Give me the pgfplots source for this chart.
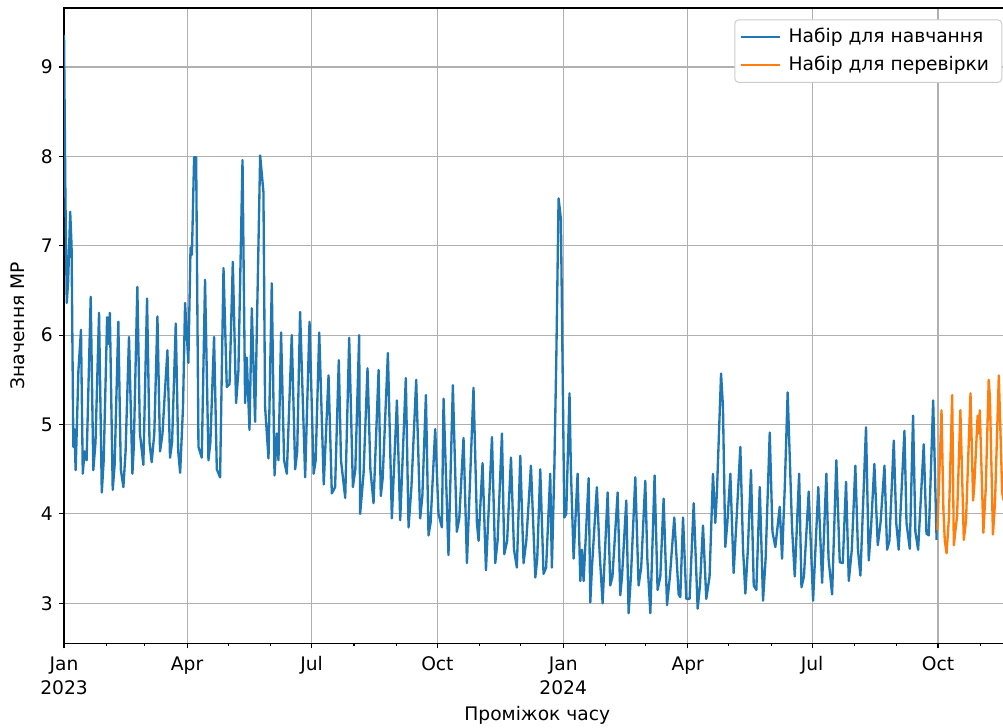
\documentclass[border=0pt]{standalone}
\usepackage{fontspec}
\setmainfont{DejaVu Sans}
\usepackage{pgfplots}
\pgfplotsset{compat=1.18}
\definecolor{mplblue}{HTML}{1F77B4}
\definecolor{mplorange}{HTML}{FF7F0E}
\begin{document}
\fontsize{14}{17}\selectfont
\begin{tikzpicture}
\useasboundingbox (-48pt,-63pt) rectangle (703.8pt,482.25pt);
\begin{axis}[
 at={(0,0)}, anchor=south west,
 scale only axis, width=704.25pt, height=476.25pt,
 xmin=0, xmax=687, ymin=2.552, ymax=9.66,
 xtick={0,90,181,273,365,456,547,639},
 xticklabels={{Jan\\2023},Apr,Jul,Oct,{Jan\\2024},Apr,Jul,Oct},
 minor xtick={31,59,120,151,212,243,304,334,396,425,486,517,578,609,670},
 ytick={3,4,5,6,7,8,9},
 xticklabel style={align=center, font=\fontsize{14}{18}\selectfont, yshift=-1.5pt},
 yticklabel style={font=\fontsize{14}{17}\selectfont},
 tick align=outside, tick pos=left,
 major tick length=3.65pt, minor tick length=2.1pt,
 every tick/.style={black, line width=0.83pt},
 axis line style={line width=0.83pt},
 grid=major, major grid style={color=black!31, line width=0.83pt},
 xlabel={Проміжок часу}, ylabel={Значення МР},
 xlabel style={at={(axis description cs:0.5037,-0.1134)}, anchor=center, font=\fontsize{14}{17}\selectfont},
 ylabel style={at={(axis description cs:-0.049,0.5)}, anchor=center, font=\fontsize{14}{17}\selectfont},
 /pgf/number format/assume math mode=true,
 legend cell align=left,
 legend image code/.code={\draw[#1, line width=1.75pt] (0pt,0pt) -- (29pt,0pt);},
 legend style={at={(rel axis cs:0.9986,0.9822)}, anchor=north east,
   draw=black!20, line width=0.75pt, rounded corners=3pt, fill=white,
   inner xsep=4pt, inner ysep=5pt, row sep=5pt,
   font=\fontsize{14}{17}\selectfont,
   nodes={inner xsep=5.5pt, inner ysep=1.5pt}},
]
\addplot[mplblue, line width=1.75pt, line join=round] coordinates {
(0,9.36) (1,7.55) (2,6.36) (3,6.6) (4.5,7.38) (5.5,7.0) (6.8,4.75) (7.5,4.95) (8.5,4.49) (10.5,5.6) (12.4,6.06) (13.7,4.45) (15,4.7) (16.5,4.6) (19.5,6.43) (21.4,4.49) (23,4.8) (25.6,6.25) (27.6,4.24) (29,4.6) (31.5,6.2) (32.2,5.9) (33.5,6.25) (35.6,4.27) (37,4.55) (39.7,6.15) (41.5,4.5) (43.4,4.3) (45,4.7) (47.5,5.98) (50,4.45) (51,4.75) (53.6,6.54) (55.5,4.9) (58,4.55) (60.7,6.41) (62.5,4.8) (64.1,4.58) (66,4.9) (68.3,6.21) (70.2,4.7) (72,4.9) (73.5,5.3) (75.6,5.83) (77.5,4.63) (79,4.8) (81.7,6.13) (83.5,4.7) (84.9,4.46) (87,5.2) (88.5,6.36) (90.9,5.69) (92.5,6.98) (93.5,6.9) (95.1,7.99) (96.6,7.99) (98.3,4.75) (100.7,4.63) (103.1,6.62) (105.6,4.6) (107,4.8) (109.7,5.98) (111.7,4.5) (114.1,4.41) (116.6,6.75) (119,5.42) (121,5.45) (123.4,6.82) (125.8,5.24) (127.5,5.6) (130.5,7.96) (132.4,5.24) (133.6,5.75) (135.6,4.94) (137.3,6.30) (139.7,5.03) (143.4,8.01) (145.8,7.6) (147,5.2) (149.5,4.62) (151.9,6.58) (153.9,4.43) (155.6,4.9) (156.8,4.6) (158.7,6.03) (160.9,4.6) (162.9,4.45) (166.5,6.0) (169,4.5) (170.5,4.7) (172.6,6.26) (176.3,4.41) (179.5,6.15) (182.5,4.45) (184,4.6) (186.6,6.03) (189.9,4.33) (193.4,5.55) (195.8,4.23) (198.2,4.3) (200.9,5.72) (202.5,4.6) (205.6,4.18) (208.5,5.97) (211.2,4.3) (213,4.5) (215.8,6.0) (216.5,4.0) (219,4.45) (221.9,5.63) (224,4.5) (226.3,4.12) (230,5.61) (231.6,4.2) (233,4.4) (236.8,5.8) (239.7,3.95) (243.4,5.27) (245.8,3.93) (249.9,5.52) (251.9,3.85) (254,4.3) (257.5,5.5) (260.4,3.95) (262,4.2) (264.6,5.33) (266.5,3.76) (268,3.9) (271.4,4.95) (273.8,4.0) (276.3,3.85) (277.5,5.29) (281.1,3.54) (284.3,5.44) (287.2,3.8) (289,3.95) (292.1,4.85) (294.6,3.45) (299.4,5.41) (301.9,3.9) (303.1,3.7) (306,4.57) (308.5,3.37) (312.9,4.86) (315.3,3.45) (317,3.7) (320.2,4.9) (321.9,3.55) (324,3.7) (326.8,4.63) (329,3.6) (331.1,3.4) (333.6,4.65) (336,3.45) (338,3.7) (341.4,4.54) (344.6,3.29) (346,3.5) (348.2,4.5) (350.6,3.33) (352.5,3.4) (355.5,4.45) (356.7,3.4) (358.5,4.5) (360,5.8) (361.6,7.53) (363.3,7.3) (365.8,3.96) (367.2,4.0) (369.6,5.35) (370.6,4.5) (372.6,3.5) (375.5,4.45) (377.5,3.25) (378.7,3.6) (379.9,3.25) (383.6,4.4) (384.8,3.01) (386,3.4) (389.6,4.3) (391.5,3.6) (393.8,3.0) (397.5,4.24) (399.4,3.2) (401,3.3) (404.8,4.24) (406.7,3.09) (408,3.3) (411.1,4.15) (412.8,2.89) (414.5,3.3) (417.7,4.41) (420.1,3.2) (422,3.4) (425,4.37) (426.5,3.5) (428.7,2.89) (431.8,4.43) (434,3.15) (436,3.3) (438.4,4.17) (440.9,2.98) (443,3.3) (446.2,3.96) (449.4,3.1) (450.6,3.07) (452.6,3.96) (455,3.05) (457.4,3.05) (460.4,4.12) (463.3,2.94) (465,3.2) (467.2,3.87) (469.6,3.05) (472,3.3) (474.5,4.45) (476.2,3.9) (477.4,4.25) (480.4,5.57) (481.8,5.2) (483.5,3.63) (485,3.9) (487.2,4.45) (489.6,3.34) (491.6,3.9) (494.5,4.75) (496.5,3.6) (498.2,3.11) (500,3.6) (502.3,4.49) (504.3,3.2) (506.2,3.15) (508.7,4.3) (511.1,3.03) (513,3.5) (516,4.91) (518,3.8) (520.1,3.63) (523.3,4.08) (525,3.5) (527,4.3) (529.1,5.36) (532.3,3.85) (534.3,3.3) (537.5,4.45) (539.2,3.18) (541,3.3) (544.5,4.25) (547.7,3.03) (551.5,4.3) (554.3,3.23) (557.4,4.45) (559,3.5) (561.6,3.1) (564.7,4.6) (567.2,3.46) (569.4,3.45) (571.8,4.36) (573.8,3.25) (576,3.6) (578.6,4.54) (580.5,3.6) (582.3,3.31) (586.4,4.97) (588.4,3.48) (590.1,3.85) (592.5,4.56) (595,3.65) (597,3.9) (599.9,4.54) (601.8,3.6) (603.5,3.7) (606.7,4.82) (608.5,3.9) (610.3,3.6) (614.5,4.93) (616,3.9) (618.4,3.61) (620.8,5.1) (622.5,3.8) (624.5,3.6) (628.6,4.78) (630.6,3.78) (632.3,3.76) (635.5,5.27) (638,3.71)
};
\addlegendentry{Набір для навчання}
\addplot[mplorange, line width=1.75pt, line join=round] coordinates {
(638.6,3.82) (641.6,5.16) (643,4.04) (644,3.7) (645.3,3.56) (647,3.95) (649.4,5.33) (650.6,3.65) (653,3.98) (655.4,5.16) (657.9,3.71) (659.5,3.92) (662.8,5.35) (664.7,4.15) (665.5,4.3) (668,5.1) (668.8,4.9) (669.6,5.16) (672.2,3.79) (674,4.3) (676.1,5.5) (677,5.3) (679.2,3.77) (680.7,4.12) (683.5,5.55) (686,4.23) (687,4.15)
};
\addlegendentry{Набір для перевірки}
\end{axis}
\end{tikzpicture}
\end{document}
